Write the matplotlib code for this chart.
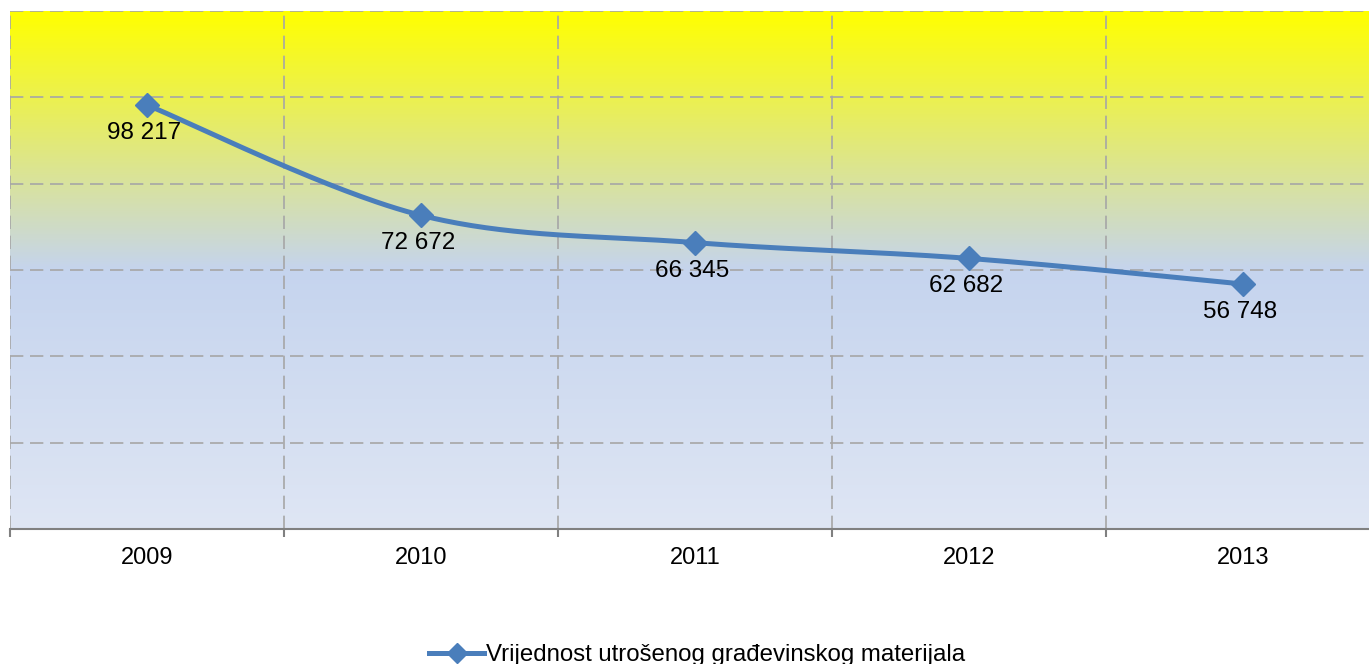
import numpy as np
import matplotlib.pyplot as plt
from matplotlib.colors import LinearSegmentedColormap
from matplotlib.lines import Line2D

godine = ['2009', '2010', '2011', '2012', '2013']
vrijednosti = [98217, 72672, 66345, 62682, 56748]
oznake = ['98 217', '72 672', '66 345', '62 682', '56 748']
naziv = 'Vrijednost utrošenog građevinskog materijala'

plava = '#4A7EBB'
siva = '#A6A6A6'

plt.rcParams['font.family'] = ['Liberation Sans', 'DejaVu Sans']

fig = plt.figure(figsize=(13.69, 6.64), dpi=100)
ax = fig.add_axes([10/1369, (664-529)/664, 1370/1369, 518/664])

ymax = 120000
ax.set_xlim(0, 5)

# pozadina - gradijent zuto (gore) -> plavo -> svijetlo plavo (dolje)
cmap = LinearSegmentedColormap.from_list('poz', [(0, '#FFFF00'), (0.5, '#C5D4EE'), (1, '#DFE6F4')])
grad = np.linspace(0, 1, 256).reshape(-1, 1)
ax.imshow(grad, cmap=cmap, aspect='auto', origin='upper', extent=[0, 5, 0, ymax], zorder=0)
ax.set_ylim(0, ymax)

# mreza
for yy in np.arange(20000, ymax + 1, 20000):
    ax.axhline(yy, color=siva, lw=1.2, ls=(0, (8, 4)), zorder=1)
for xx in range(0, 5):
    ax.axvline(xx, color=siva, lw=1.2, ls=(0, (8, 4)), zorder=1)

# zagladjena linija (Catmull-Rom / Bezier kao u Excelu)
xs = np.arange(len(vrijednosti)) + 0.5
px = xs * 274.0
py = np.array(vrijednosti) * 518.0 / ymax
P = np.column_stack([px, py])
krivulja = []
t = np.linspace(0, 1, 60)
for i in range(len(P) - 1):
    p0 = P[i - 1] if i > 0 else P[i]
    p1 = P[i]
    p2 = P[i + 1]
    p3 = P[i + 2] if i + 2 < len(P) else P[i + 1]
    c1 = p1 + (p2 - p0) / 6.0
    c2 = p2 - (p3 - p1) / 6.0
    seg = ((1-t)**3)[:, None]*p1 + (3*(1-t)**2*t)[:, None]*c1 + (3*(1-t)*t**2)[:, None]*c2 + (t**3)[:, None]*p2
    krivulja.append(seg)
krivulja = np.vstack(krivulja)
ax.plot(krivulja[:, 0] / 274.0, krivulja[:, 1] * ymax / 518.0, color=plava, lw=3.6,
        solid_capstyle='round', zorder=3)
ax.plot(xs, vrijednosti, ls='none', marker='D', ms=12.5, color=plava, zorder=4)

for x, v, o in zip(xs, vrijednosti, oznake):
    ax.annotate(o, (x, v), xytext=(-3, -28), textcoords='offset pixels',
                ha='center', va='center', fontsize=17.5, zorder=5)

ax.set_xticks(range(0, 6))
ax.set_xticklabels([])
ax.set_xticks(xs, minor=True)
ax.set_xticklabels(godine, minor=True, fontsize=17)
ax.tick_params(axis='x', which='major', length=6, width=1.5, color='#808080', direction='out')
ax.tick_params(axis='x', which='minor', length=0, pad=13)
ax.set_yticks([])
for s in ['top', 'right', 'left']:
    ax.spines[s].set_visible(False)
ax.spines['bottom'].set_color('#808080')
ax.spines['bottom'].set_linewidth(1.5)

h = Line2D([], [], color=plava, lw=3.6, marker='D', ms=10)
fig.legend([h], [naziv], loc='center', bbox_to_anchor=(697/1369, 1 - 655/664),
           frameon=False, fontsize=17.3, handlelength=2.3, handletextpad=0.05)

plt.savefig('out.png', dpi=100)
